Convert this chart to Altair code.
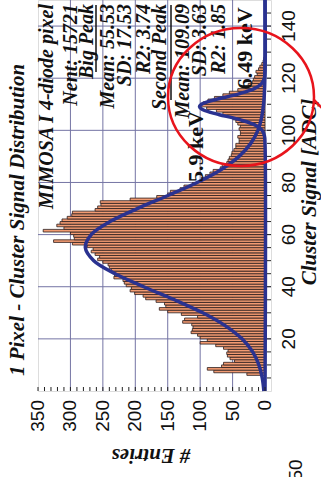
import altair as alt
import pandas as pd

# ---------------- data ----------------
bin_lo = list(range(0, 128))
counts = [0, 0, 0, 0, 0, 0, 28, 79, 89, 67,
          64, 47, 54, 58, 59, 57, 64, 76, 100, 89,
          100, 104, 114, 112, 111, 113, 127, 124, 104, 129,
          150, 163, 153, 155, 168, 184, 188, 201, 208, 206,
          214, 217, 219, 233, 232, 235, 237, 240, 242, 250,
          258, 255, 262, 268, 265, 274, 297, 326, 294, 295,
          300, 342, 310, 321, 316, 313, 305, 298, 297, 262,
          258, 253, 254, 208, 167, 150, 146, 131, 125, 112,
          100, 98, 92, 85, 80, 69, 66, 59, 57, 55,
          52, 51, 48, 45, 45, 40, 40, 42, 38, 38,
          40, 38, 42, 45, 49, 58, 65, 75, 90, 100,
          95, 88, 78, 65, 55, 42, 30, 26, 20, 18,
          16, 12, 14, 10, 8, 5, 3, 2]

fit1_adc = [0, 5, 10, 15, 20, 25, 30, 35, 40, 45, 50, 55, 60, 65, 70, 75,
            80, 85, 90, 95, 100, 105, 110, 115, 120, 130, 150]
fit1_val = [1.8, 4.3, 9.5, 19, 35.5, 61, 96, 139.5, 187, 231, 264, 277, 268,
            239, 197, 149.5, 104.6, 67.4, 40, 22, 11, 5.2, 2.2, 0.9, 0.3, 0, 0]

fit2_adc = [0, 95, 98, 100, 102, 104, 106, 107, 108, 109, 110, 111, 112,
            114, 116, 118, 120, 123, 150]
fit2_val = [0, 0.05, 1, 4.4, 15, 37.8, 70.3, 85.6, 96.5, 101, 97.9, 88, 73.2,
            40.4, 16.5, 5, 1.1, 0, 0]

entries_ticks = [0, 50, 100, 150, 200, 250, 300, 350]
entries_grid = [50, 100, 150, 200, 250, 300]
adc_ticks = [20, 40, 60, 80, 100, 120, 140]

stats_lines = ["MIMOSA I 4-diode pixel", "Nent: 15721", "Big Peak",
               "Mean: 55.53", "SD: 17.53", "R2: 3.74", "Second Peak",
               "Mean: 109.09", "SD: 3.63", "R2: 1.85"]
stats_px = [9, 33, 49, 70, 87, 106, 122, 145, 162, 181]

title_text = "1 Pixel - Cluster Signal Distribution"
x_title = "# Entries"
y_title = "Cluster Signal [ADC]"
peak_labels = ["5.9 keV", "6.49 keV"]
peak_label_entries = [106, 31]
peak_label_adc = [93.8, 131.5]

# ---------------- layout ----------------
W, H = 233, 391
xs = alt.Scale(domain=[-9.2, 350], reverse=True, nice=False, zero=False)
ys = alt.Scale(domain=[0, 150], nice=False, zero=False)

SERIF = "Liberation Serif"
SANS = "Liberation Sans"
BLUE = "#2a3290"
GRID = "#7474a4"

hist = pd.DataFrame({"lo": bin_lo, "n": counts})
hist["hi"] = hist["lo"] + 1
hist["zero"] = 0
hist = hist[hist["n"] > 0]

f1 = pd.DataFrame({"adc": fit1_adc, "v": fit1_val})
f2 = pd.DataFrame({"adc": fit2_adc, "v": fit2_val})

grid_x = alt.Chart(pd.DataFrame({"e": entries_grid})).mark_rule(
    color=GRID, strokeWidth=1).encode(x=alt.X("e:Q", scale=xs, axis=None))
grid_y = alt.Chart(pd.DataFrame({"a": adc_ticks})).mark_rule(
    color=GRID, strokeWidth=1).encode(y=alt.Y("a:Q", scale=ys, axis=None))

bars = alt.Chart(hist).mark_bar(
    fill="#f29b72", stroke="#2b1d1d", strokeWidth=0.8).encode(
    y=alt.Y("lo:Q", scale=ys, axis=None),
    y2="hi:Q",
    x=alt.X("n:Q", scale=xs, axis=None),
    x2="zero:Q",
)

line1 = alt.Chart(f1).mark_line(color=BLUE, strokeWidth=3.5,
                                interpolate="catmull-rom").encode(
    x=alt.X("v:Q", scale=xs, axis=None),
    y=alt.Y("adc:Q", scale=ys, axis=None),
    order="adc:Q")
line2 = alt.Chart(f2).mark_line(color=BLUE, strokeWidth=3.5,
                                interpolate="catmull-rom").encode(
    x=alt.X("v:Q", scale=xs, axis=None),
    y=alt.Y("adc:Q", scale=ys, axis=None),
    order="adc:Q")

# inside tick marks on the frame
minor_e = pd.DataFrame({"e": list(range(0, 351, 10))})
ticks_bottom = alt.Chart(minor_e).mark_rule(color="#222", strokeWidth=1).encode(
    x=alt.X("e:Q", scale=xs, axis=None),
    y=alt.value(H - 4), y2=alt.value(H))
minor_a = pd.DataFrame({"a": list(range(5, 150, 5))})
ticks_right = alt.Chart(minor_a).mark_rule(color="#222", strokeWidth=1).encode(
    y=alt.Y("a:Q", scale=ys, axis=None),
    x=alt.value(W - 4), x2=alt.value(W))

# axis tick labels (rotated, like the reference)
xlab_df = pd.DataFrame({"e": entries_ticks,
                        "t": [str(v) for v in entries_ticks]})
xlabels = alt.Chart(xlab_df).mark_text(
    angle=270, align="right", baseline="middle", font=SANS, fontSize=19,
    color="#111").encode(
    x=alt.X("e:Q", scale=xs, axis=None), y=alt.value(H + 9), text="t:N")
ylab_df = pd.DataFrame({"a": adc_ticks, "t": [str(v) for v in adc_ticks]})
ylabels = alt.Chart(ylab_df).mark_text(
    angle=270, align="center", baseline="top", font=SANS, fontSize=19,
    color="#111").encode(
    y=alt.Y("a:Q", scale=ys, axis=None), x=alt.value(W + 9), text="t:N")

# stats box text
stats = alt.Chart(pd.DataFrame({"t": stats_lines, "px": stats_px})).mark_text(
    angle=270, align="right", baseline="middle", font=SERIF,
    fontStyle="italic", fontWeight="bold", fontSize=20, color="#111").encode(
    x=alt.X("px:Q", scale=None, axis=None), y=alt.value(4), text="t:N")

underline1 = alt.Chart(pd.DataFrame({"k": [0]})).mark_rule(
    color="#111", strokeWidth=1.5).encode(
    x=alt.value(58), y=alt.value(5), y2=alt.value(72))
underline2 = alt.Chart(pd.DataFrame({"k": [0]})).mark_rule(
    color="#111", strokeWidth=1.5).encode(
    x=alt.value(133), y=alt.value(5), y2=alt.value(100))

peaks = alt.Chart(pd.DataFrame({"t": peak_labels, "e": peak_label_entries,
                                "a": peak_label_adc})).mark_text(
    angle=270, align="center", baseline="middle", font=SERIF,
    fontWeight="bold", fontSize=22, color="#111").encode(
    x=alt.X("e:Q", scale=xs, axis=None),
    y=alt.Y("a:Q", scale=ys, axis=None), text="t:N")

title = alt.Chart(pd.DataFrame({"t": [title_text]})).mark_text(
    angle=270, align="center", baseline="middle", font=SERIF,
    fontStyle="italic", fontWeight="bold", fontSize=21, color="#111").encode(
    x=alt.value(-20), y=alt.value(220), text="t:N")

ytitle = alt.Chart(pd.DataFrame({"t": [y_title]})).mark_text(
    angle=270, align="center", baseline="middle", font=SERIF,
    fontStyle="italic", fontWeight="bold", fontSize=21, color="#111").encode(
    x=alt.value(272), y=alt.value(192), text="t:N")

xtitle = alt.Chart(pd.DataFrame({"t": [x_title]})).mark_text(
    angle=180, align="center", baseline="middle", font=SERIF,
    fontStyle="italic", fontWeight="bold", fontSize=21, color="#111").encode(
    x=alt.value(113), y=alt.value(455), text="t:N")

stray = alt.Chart(pd.DataFrame({"t": ["50"]})).mark_text(
    angle=270, align="center", baseline="middle", font=SANS,
    fontSize=19, color="#111").encode(
    x=alt.value(258), y=alt.value(470), text="t:N")

ellipse = alt.Chart(pd.DataFrame({"k": [0]})).mark_point(
    shape="M-1,0A1,0.945 0 1,0 1,0A1,0.945 0 1,0 -1,0Z",
    size=146 * 146, filled=False, stroke="#e8141c", strokeWidth=2.5,
    opacity=1).encode(x=alt.value(203), y=alt.value(97))
tail = alt.Chart(pd.DataFrame({"k": [0]})).mark_rule(
    color="#e8141c", strokeWidth=2.5).encode(
    x=alt.value(276), x2=alt.value(284), y=alt.value(100), y2=alt.value(108))

chart = alt.layer(
    grid_x, grid_y, bars, line1, line2, ticks_bottom, ticks_right,
    xlabels, ylabels, stats, underline1, underline2, peaks, title, ytitle,
    xtitle, stray, ellipse, tail
).properties(
    width=W, height=H,
    padding={"left": 38, "top": 0, "right": 50, "bottom": 86},
    autosize=alt.AutoSizeParams(type="none"),
).configure_view(stroke="#333", strokeWidth=1.2).configure(background="white")

chart.save("out.html", embed_options={"renderer": "svg", "actions": False})
